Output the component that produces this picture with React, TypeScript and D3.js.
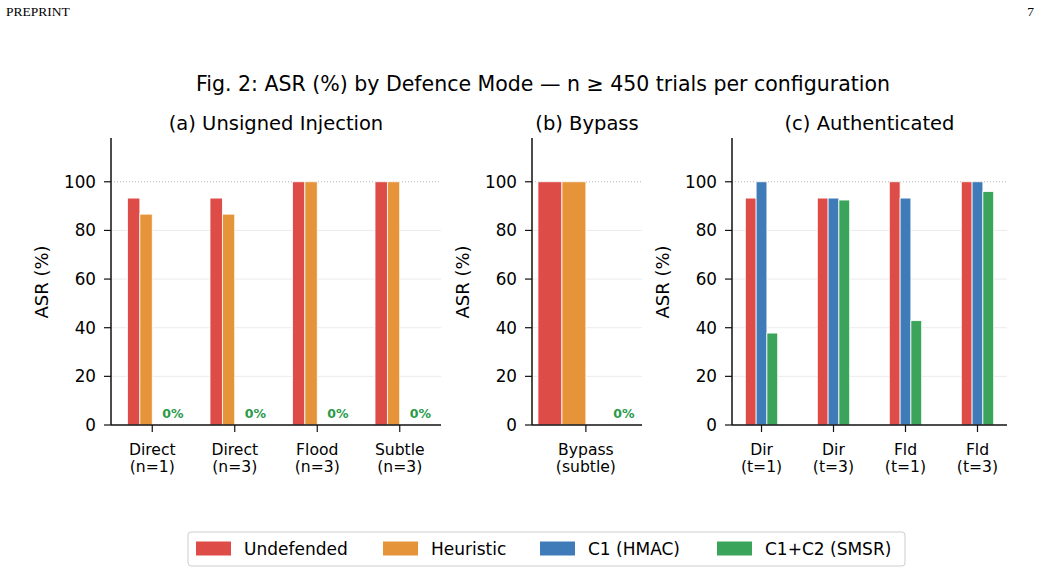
import React from 'react';
import * as d3 from 'd3';

const W = 1041;
const H = 573;

const seriesNames = ['Undefended', 'Heuristic', 'C1 (HMAC)', 'C1+C2 (SMSR)'];
const seriesColors = ['#dd4c46', '#e6943a', '#3f7bb8', '#3aa45b'];

// (a) Unsigned Injection
const catsA = ['Direct\n(n=1)', 'Direct\n(n=3)', 'Flood\n(n=3)', 'Subtle\n(n=3)'];
const undefA = [93.3, 93.3, 100, 100];
const heurA = [86.7, 86.7, 100, 100];
const smsrA = [0, 0, 0, 0];

// (b) Bypass
const catsB = ['Bypass\n(subtle)'];
const undefB = [100];
const heurB = [100];
const smsrB = [0];

// (c) Authenticated
const catsC = ['Dir\n(t=1)', 'Dir\n(t=3)', 'Fld\n(t=1)', 'Fld\n(t=3)'];
const undefC = [93.3, 93.3, 100, 100];
const hmacC = [100, 93.3, 93.3, 100];
const smsrC = [37.8, 92.5, 42.9, 96];

const yTicks = [0, 20, 40, 60, 80, 100];

const font = 'DejaVu Sans, sans-serif';

const panels = [
  {
    title: '(a) Unsigned Injection', cats: catsA, x0: 111, x1: 441, xlim: [-0.5, 3.5], bw: 0.15,
    series: [{s: 0, v: undefA, off: -1.5}, {s: 1, v: heurA, off: -0.5}, {s: 3, v: smsrA, off: 1.5}],
  },
  {
    title: '(b) Bypass', cats: catsB, x0: 532, x1: 642, xlim: [-0.49, 0.51], bw: 0.218,
    series: [{s: 0, v: undefB, off: -1.5}, {s: 1, v: heurB, off: -0.5}, {s: 3, v: smsrB, off: 1.5}],
  },
  {
    title: '(c) Authenticated', cats: catsC, x0: 732, x1: 1007, xlim: [-0.41, 3.41], bw: 0.15,
    series: [{s: 0, v: undefC, off: -1}, {s: 2, v: hmacC, off: 0}, {s: 3, v: smsrC, off: 1}],
  },
];

const yTop = 138;
const yBot = 425;

const Panel = ({p}) => {
  const x = d3.scaleLinear().domain(p.xlim).range([p.x0, p.x1]);
  const y = d3.scaleLinear().domain([0, 118]).range([yBot, yTop]);
  const unit = x(1) - x(0);
  const bwPx = p.bw * unit;
  return (
    <g>
      <text x={(p.x0 + p.x1) / 2} y={130} textAnchor="middle" fontSize={19.5} fontFamily={font}>{p.title}</text>
      {yTicks.filter(t => t > 0 && t < 100).map(t => (
        <line key={t} x1={p.x0} x2={p.x1} y1={y(t)} y2={y(t)} stroke="#ebebeb" strokeWidth={1} />
      ))}
      <line x1={p.x0} x2={p.x1} y1={y(100)} y2={y(100)} stroke="#aaa" strokeWidth={0.9} strokeDasharray="1,2" />
      {p.series.map(se => se.v.map((v, i) => {
        const cx = x(i + se.off * p.bw);
        return (
          <g key={se.s + '-' + i}>
            {v > 0 && (
              <rect x={cx - bwPx / 2} y={y(v)} width={bwPx} height={y(0) - y(v)}
                fill={seriesColors[se.s]} stroke="#fff" strokeWidth={0.8} />
            )}
            {v === 0 && (
              <text x={cx + 2} y={y(2.9)} textAnchor="middle" fontSize={12.5} fontWeight="bold"
                fill="#2a9a48" fontFamily={font}>0%</text>
            )}
          </g>
        );
      }))}
      {/* spines */}
      <line x1={p.x0} x2={p.x0} y1={yTop} y2={yBot} stroke="#111" strokeWidth={1.5} />
      <line x1={p.x0} x2={p.x1} y1={yBot} y2={yBot} stroke="#111" strokeWidth={1.5} />
      {yTicks.map(t => (
        <g key={t}>
          <line x1={p.x0 - 7} x2={p.x0} y1={y(t)} y2={y(t)} stroke="#111" strokeWidth={1.2} />
          <text x={p.x0 - 15} y={y(t) + 6} textAnchor="end" fontSize={16.8} fontFamily={font}>{t}</text>
        </g>
      ))}
      {p.cats.map((c, i) => (
        <g key={c}>
          <line x1={x(i)} x2={x(i)} y1={yBot} y2={yBot + 7} stroke="#111" strokeWidth={1.2} />
          {c.split('\n').map((line, k) => (
            <text key={k} x={x(i)} y={455 + k * 17} textAnchor="middle" fontSize={15.6} fontFamily={font}>{line}</text>
          ))}
        </g>
      ))}
      <text transform={`translate(${p.x0 - 63},${282}) rotate(-90)`} textAnchor="middle"
        fontSize={18} fontFamily={font}>ASR (%)</text>
    </g>
  );
};

const legendX = [196, 383, 540, 717];

export default function App() {
  return (
    <svg width={W} height={H} style={{position: 'absolute', left: 0, top: 0, background: '#fff'}}>
      <rect width={W} height={H} fill="#fff" />
      <text x={6} y={16} fontSize={13.5} fontFamily="Liberation Serif, serif">PREPRINT</text>
      <text x={1034} y={16} fontSize={13.5} textAnchor="end" fontFamily="Liberation Serif, serif">7</text>
      <text x={543} y={91} textAnchor="middle" fontSize={20.5} fontFamily={font}>
        Fig. 2: ASR (%) by Defence Mode — n ≥ 450 trials per configuration
      </text>
      {panels.map(p => <Panel key={p.title} p={p} />)}
      <rect x={188} y={532} width={717} height={34} rx={3} fill="#fff" stroke="#ccc" strokeWidth={1} />
      {seriesNames.map((n, i) => (
        <g key={n}>
          <rect x={legendX[i]} y={541.5} width={35} height={14} fill={seriesColors[i]} />
          <text x={legendX[i] + 48} y={555} fontSize={17} fontFamily={font}>{n}</text>
        </g>
      ))}
    </svg>
  );
}
